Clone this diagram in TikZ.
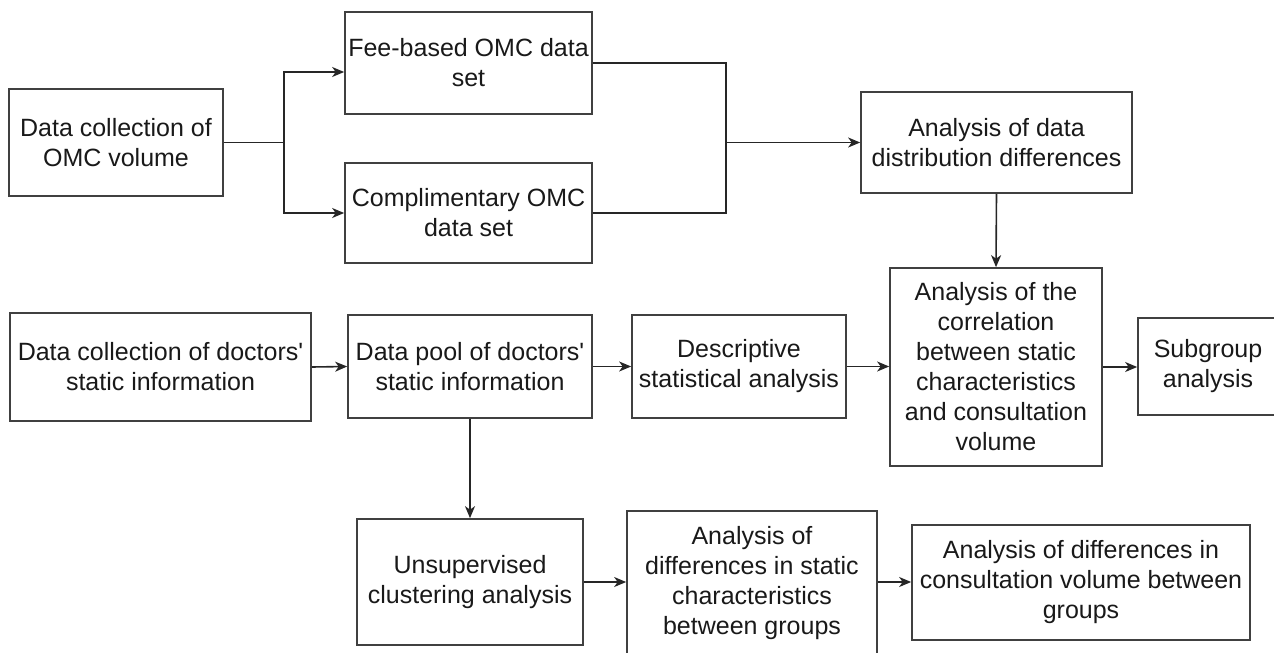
\documentclass[tikz,border=0pt]{standalone}
\usepackage{fontspec}
\setmainfont{Liberation Sans}
\usetikzlibrary{arrows.meta}
\begin{document}
\begin{tikzpicture}[x=1pt,y=-1pt,
  box/.style={draw=black!75, line width=1.7pt, inner sep=0pt, align=center,
    font=\fontsize{25}{30}\selectfont, text=black!90},
  ln/.style={line width=1.6pt, draw=black!85},
  arr/.style={ln, -{Stealth[length=12pt,width=10pt,inset=3.5pt]}}]
\useasboundingbox (0,0) rectangle (1274,653);
\clip (0,0) rectangle (1274,653);
% top part
\node[box, minimum width=214pt, minimum height=107pt] (A) at (116,142.5) {Data collection of\\OMC volume};
\node[box, minimum width=247pt, minimum height=102pt] (B) at (468.5,63) {Fee-based OMC data\\set};
\node[box, minimum width=247pt, minimum height=100pt] (C) at (468.5,213) {Complimentary OMC\\data set};
\node[box, minimum width=271pt, minimum height=101pt] (D) at (996.5,142.5) {Analysis of data\\distribution differences};
% middle row
\node[box, minimum width=301pt, minimum height=108pt] (E) at (160.5,367) {Data collection of doctors\textquotesingle\\static information};
\node[box, minimum width=244pt, minimum height=103pt] (F) at (470,366.5) {Data pool of doctors\textquotesingle\\static information};
\node[box, minimum width=214pt, minimum height=103pt] (G) at (739,366.5) {Descriptive\\statistical analysis};
\node[box, minimum width=212pt, minimum height=198pt] (H) at (996,367) {Analysis of the\\correlation\\between static\\characteristics\\and consultation\\volume};
\node[box, minimum width=140pt, minimum height=97pt] (I) at (1208,366.5) {Subgroup\\analysis};
% bottom row
\node[box, minimum width=226pt, minimum height=126pt] (J) at (470,582) {Unsupervised\\clustering analysis};
\node[box, minimum width=250pt, minimum height=144pt] (K) at (752,583) {Analysis of\\differences in static\\characteristics\\between groups};
\node[box, minimum width=338pt, minimum height=115pt] (L) at (1081,582.5) {Analysis of differences in\\consultation volume between\\groups};
% connectors
\coordinate (sp) at (284,142.5);
\coordinate (jn) at (726,142.5);
\draw[ln] (A.east) -- (sp);
\draw[arr] (sp) |- ([yshift=-9pt]B.west);
\draw[arr] (sp) |- (C.west);
\draw[ln] (B.east) -| (jn);
\draw[ln] (C.east) -| (jn);
\draw[arr] (jn) -- (D.west);
\draw[arr] (D.south) -- (H.north);
\draw[arr] (E.east) -- (F.west);
\draw[arr] (F.east) -- (G.west);
\draw[arr] (G.east) -- (G.east -| H.west);
\draw[arr] (H.east) -- (H.east -| I.west);
\draw[arr] (F.south) -- (J.north);
\draw[arr] (J.east) -- (J.east -| K.west);
\draw[arr] (K.east |- J.east) -- (J.east -| L.west);
\end{tikzpicture}
\end{document}
